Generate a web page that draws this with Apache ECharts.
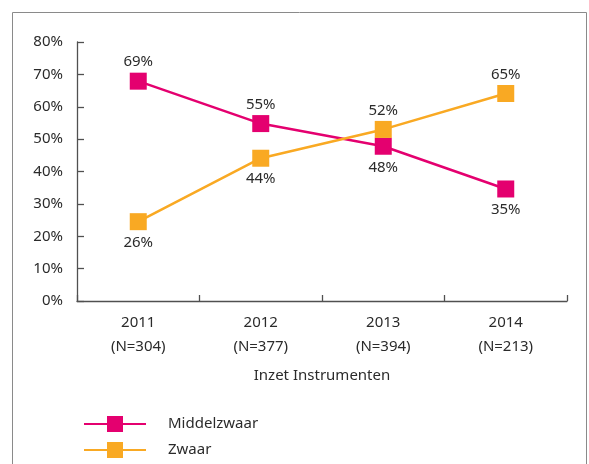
<!DOCTYPE html>
<html><head><meta charset="utf-8">
<script src="https://cdn.jsdelivr.net/npm/echarts@6/dist/echarts.min.js"></script>
<style>html,body{margin:0;padding:0;background:#fff}#c{width:589px;height:464px}</style>
</head><body><div id="c"></div>
<script>
const categories = ['2011\n(N=304)', '2012\n(N=377)', '2013\n(N=394)', '2014\n(N=213)'];
const middelzwaar = [67.9, 54.8, 47.8, 34.6];
const zwaar = [24.5, 44.1, 53.0, 64.1];
const middelzwaarLabels = ['69%', '55%', '48%', '35%'];
const zwaarLabels = ['26%', '44%', '52%', '65%'];
const middelzwaarLabelPos = ['top', 'top', 'bottom', 'bottom'];
const zwaarLabelPos = ['bottom', 'bottom', 'top', 'top'];
const yTicks = [0, 10, 20, 30, 40, 50, 60, 70, 80];

const FONT = 'Noto Sans';
const TXT = '#2b2b2b';
const chart = echarts.init(document.getElementById('c'), null, {renderer: 'canvas'});

function mk(vals, labels, pos) {
  return vals.map((v, i) => ({value: v, label: {show: true, position: pos[i], formatter: labels[i], distance: pos[i] === 'top' ? 3 : 5}}));
}

chart.setOption({
  animation: false,
  textStyle: {fontFamily: FONT},
  graphic: [{type: 'rect', shape: {x: 12.5, y: 12.5, width: 574, height: 470}, style: {fill: 'none', stroke: '#8a8a8a', lineWidth: 1}, silent: true}],
  grid: {left: 77, right: 22, top: 42, bottom: 163},
  xAxis: {
    type: 'category', data: categories, boundaryGap: true,
    name: 'Inzet Instrumenten', nameLocation: 'middle', nameGap: 67,
    nameTextStyle: {color: TXT, fontSize: 15, fontFamily: FONT},
    axisLine: {lineStyle: {color: '#505050', width: 1.3}},
    axisTick: {show: true, inside: true, length: 6, lineStyle: {color: '#505050', width: 1.3}},
    axisLabel: {color: TXT, fontSize: 15, fontFamily: FONT, lineHeight: 24, margin: 10}
  },
  yAxis: {
    type: 'value', min: 0, max: 80, interval: 10,
    axisLine: {show: true, lineStyle: {color: '#505050', width: 1.3}},
    axisTick: {show: true, inside: true, length: 7, lineStyle: {color: '#505050', width: 1.3}},
    splitLine: {show: false},
    axisLabel: {color: TXT, fontSize: 15, fontFamily: FONT, margin: 14, formatter: v => yTicks.includes(v) ? v + '%' : ''}
  },
  legend: {
    orient: 'vertical', left: 78, top: 411, itemWidth: 62, itemHeight: 20, itemGap: 10,
    textStyle: {color: TXT, fontSize: 15, fontFamily: FONT, padding: [0, 0, 0, 17]},
    data: ['Middelzwaar', 'Zwaar']
  },
  series: [
    {name: 'Middelzwaar', type: 'line', data: mk(middelzwaar, middelzwaarLabels, middelzwaarLabelPos),
     symbol: 'rect', symbolSize: 17, color: '#E4006F', lineStyle: {width: 2.5, color: '#E4006F'},
     label: {color: TXT, fontSize: 15, fontFamily: FONT}},
    {name: 'Zwaar', type: 'line', data: mk(zwaar, zwaarLabels, zwaarLabelPos),
     symbol: 'rect', symbolSize: 17, color: '#F9A923', lineStyle: {width: 2.5, color: '#F9A923'},
     label: {color: TXT, fontSize: 15, fontFamily: FONT}}
  ]
});
</script></body></html>
